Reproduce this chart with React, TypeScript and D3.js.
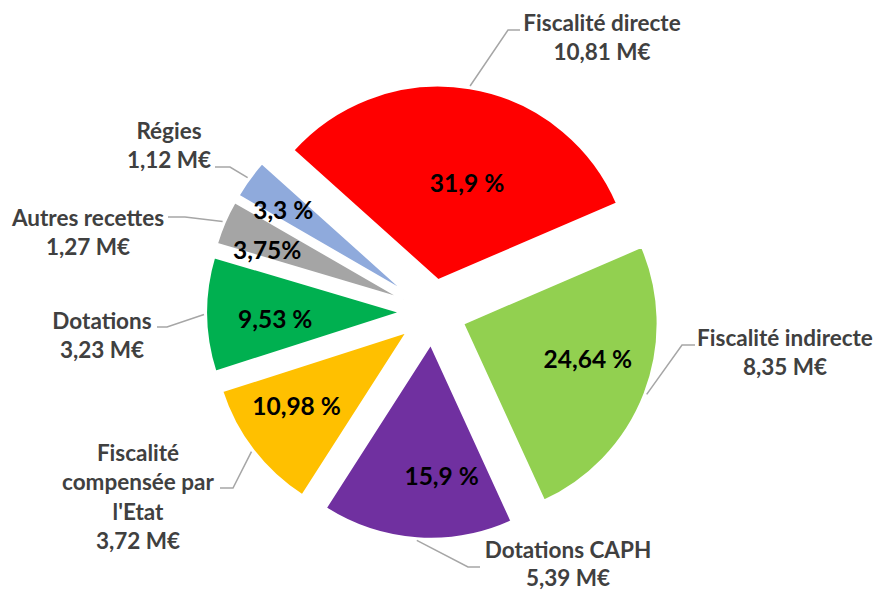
import * as d3 from 'd3';

// recettes 2023, M€
const categories = [
    'Fiscalité directe',
    'Fiscalité indirecte',
    'Dotations CAPH',
    "Fiscalité compensée par l'Etat",
    'Dotations',
    'Autres recettes',
    'Régies',
];
const amounts = [10.81, 8.35, 5.39, 3.72, 3.23, 1.27, 1.12];
const pctLabels = ['31,9 %', '24,64 %', '15,9 %', '10,98 %', '9,53 %', '3,75%', '3,3 %'];
const colors = ['#ff0000', '#92d050', '#7030a0', '#ffc000', '#00b050', '#a5a5a5', '#8faadc'];

// layout
const width = 875;
const height = 591;
const cx = 433;
const cy = 312;
const radius = 195;
const explode = 32;
const firstAngle = (-48.1 * Math.PI) / 180;
const wrapChars = [0, 0, 0, 14, 0, 0, 0]; // 0 = pas de retour à la ligne
const lineHeight = 29.5;

// position of the % label inside each slice: [distance from slice origin, angle in degrees]
const pctPos: [number, number][] = [
    [101, 16.6],
    [130, 106],
    [133, 175.3],
    [134, 236],
    [126, 266.8],
    [145, 289.8],
    [149, 303.8],
];

// callouts: text centre, elbow of the leader line, end of the leader line
const callouts = [
    { tx: 602, ty: 23, elbow: [508, 30], end: [520, 30] },
    { tx: 785, ty: 338, elbow: [682, 345], end: [695, 345] },
    { tx: 568, ty: 550, elbow: [468, 567], end: [480, 567] },
    { tx: 138, ty: 453, elbow: [233, 488], end: [220, 488] },
    { tx: 102, ty: 321, elbow: [167, 327], end: [157, 327] },
    { tx: 88, ty: 218, elbow: [185, 217], end: [168, 217] },
    { tx: 169, ty: 131, elbow: [230, 167], end: [215, 167] },
];

const fr = d3.formatLocale({ decimal: ',', thousands: ' ', grouping: [3], currency: ['', ' M€'] });
const fmtMoney = fr.format('$.2f');

function wrap(text: string, max: number) {
    if (!max) return [text];
    const lines: string[] = [];
    let cur = '';
    text.split(' ').forEach((w) => {
        const next = cur ? cur + ' ' + w : w;
        if (next.length > max && cur) {
            lines.push(cur);
            cur = w;
        } else cur = next;
    });
    if (cur) lines.push(cur);
    return lines;
}

const polar = (r: number, a: number) => [r * Math.sin(a), -r * Math.cos(a)];

export default function App() {
    const pie = d3
        .pie<number>()
        .sort(null)
        .startAngle(firstAngle)
        .endAngle(firstAngle + 2 * Math.PI)(amounts);
    const arc = d3.arc<d3.PieArcDatum<number>>().innerRadius(0).outerRadius(radius);

    return (
        <svg
            width={width}
            height={height}
            style={{ position: 'absolute', left: 0, top: 0, background: '#fff' }}
            fontFamily="Lato, 'Open Sans', sans-serif"
            fontWeight="bold"
        >
            {pie.map((d, i) => {
                const mid = (d.startAngle + d.endAngle) / 2;
                const [ox, oy] = polar(explode, mid);
                const x0 = cx + ox;
                const y0 = cy + oy;
                const [px, py] = polar(pctPos[i][0], (pctPos[i][1] * Math.PI) / 180);
                const [sx, sy] = polar(radius + 2, mid);
                const c = callouts[i];
                const lines = [...wrap(categories[i], wrapChars[i]), fmtMoney(amounts[i])];
                return (
                    <g key={categories[i]}>
                        <path
                            d={arc(d) ?? ''}
                            transform={`translate(${x0},${y0})`}
                            fill={colors[i]}
                            stroke="#fff"
                            strokeWidth={2.5}
                            strokeLinejoin="miter"
                        />
                        <polyline
                            points={`${x0 + sx},${y0 + sy} ${c.elbow[0]},${c.elbow[1]} ${c.end[0]},${c.end[1]}`}
                            fill="none"
                            stroke="#a6a6a6"
                            strokeWidth={1.5}
                        />
                        <text
                            x={x0 + px}
                            y={y0 + py}
                            dy="0.36em"
                            textAnchor="middle"
                            fontSize={24.5}
                            fill="#000"
                        >
                            {pctLabels[i]}
                        </text>
                        <text textAnchor="middle" fontSize={22.5} fill="#404040">
                            {lines.map((l, j) => (
                                <tspan key={j} x={c.tx} y={c.ty + j * (i === 2 ? 28.5 : lineHeight)} dy="0.35em">
                                    {l}
                                </tspan>
                            ))}
                        </text>
                    </g>
                );
            })}
        </svg>
    );
}
